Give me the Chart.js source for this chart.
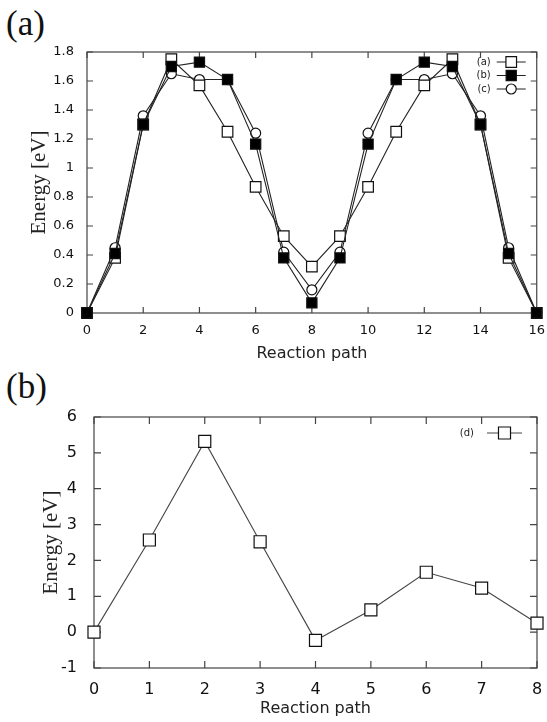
<!DOCTYPE html>
<html lang="en">
<head>
<meta charset="UTF-8">
<title>Energy along reaction path</title>
<script src="https://cdn.jsdelivr.net/npm/chart.js@4/dist/chart.umd.min.js"></script>
<style>
    body{
        margin: 0;
        padding: 0;
        background: white;
        width: 547px;
        height: 722px;
        position: relative;
        overflow: hidden;
    }
    canvas{
        position: absolute;
        left: 0;
    }
    #topchart{ top: 0; }
    #botchart{ top: 370px; }
    .tag{
        position: absolute;
        left: 6px;
        font-family: 'Liberation Serif', serif;
        font-size: 35px;
        color: #111;
        line-height: 1;
    }
</style>
</head>
<body>
<div class="tag" style="top:6px">(a)</div>
<div class="tag" style="top:369px">(b)</div>
<canvas id="topchart" width="547" height="370"></canvas>
<canvas id="botchart" width="547" height="352"></canvas>
<script>
// panel (a)
var pathA = [0,1,2,3,4,5,6,7,8,9,10,11,12,13,14,15,16];
var seriesA = [0,0.38,1.30,1.75,1.57,1.25,0.87,0.53,0.32,0.53,0.87,1.25,1.57,1.75,1.30,0.38,0];
var seriesB = [0,0.41,1.30,1.70,1.73,1.61,1.165,0.38,0.07,0.38,1.165,1.61,1.73,1.70,1.30,0.41,0];
var seriesC = [0,0.45,1.36,1.65,1.61,1.61,1.24,0.42,0.16,0.42,1.24,1.61,1.61,1.65,1.36,0.45,0];
var labelsTop = ['(a)','(b)','(c)'];

// panel (b)
var pathD = [0,1,2,3,4,5,6,7,8];
var seriesD = [0,2.57,5.32,2.52,-0.23,0.62,1.67,1.23,0.25];
var labelsBot = ['(d)'];

Chart.defaults.font.family = 'DejaVu Sans';
Chart.defaults.color = '#111';

function pts(xs, ys){
    return xs.map(function(v, i){ return {x: v, y: ys[i]}; });
}

// gnuplot style box with ticks pointing inwards on all four sides
const frame = {
    id: 'frame',
    beforeDatasetsDraw(chart, args, opts){
        const ctx = chart.ctx, a = chart.chartArea;
        const sx = chart.scales.x, sy = chart.scales.y;
        const len = opts.tick;
        ctx.save();
        ctx.strokeStyle = '#444';
        ctx.lineWidth = 1.2;
        ctx.beginPath();
        sx.ticks.forEach(function(t){
            const px = sx.getPixelForValue(t.value);
            ctx.moveTo(px, a.bottom); ctx.lineTo(px, a.bottom - len);
            ctx.moveTo(px, a.top); ctx.lineTo(px, a.top + len);
        });
        sy.ticks.forEach(function(t){
            const py = sy.getPixelForValue(t.value);
            ctx.moveTo(a.left, py); ctx.lineTo(a.left + len, py);
            ctx.moveTo(a.right, py); ctx.lineTo(a.right - len, py);
        });
        ctx.stroke();
        ctx.strokeRect(a.left, a.top, a.right - a.left, a.bottom - a.top);
        ctx.restore();
    }
};

// key in the top right corner: label, then a line sample with its marker
const key = {
    id: 'key',
    afterDraw(chart, args, opts){
        const ctx = chart.ctx, a = chart.chartArea;
        ctx.save();
        chart.data.datasets.forEach(function(ds, i){
            const y = a.top + opts.top + i * opts.gap;
            const x0 = a.right - opts.lineStart, x1 = a.right - opts.lineEnd;
            ctx.font = opts.size + 'px DejaVu Sans';
            ctx.fillStyle = '#222';
            ctx.textAlign = 'right';
            ctx.textBaseline = 'middle';
            ctx.fillText(ds.label, x0 - opts.textGap, y);
            ctx.strokeStyle = ds.borderColor;
            ctx.lineWidth = 1;
            ctx.beginPath(); ctx.moveTo(x0, y); ctx.lineTo(x1, y); ctx.stroke();
            ctx.fillStyle = ds.pointBackgroundColor;
            ctx.strokeStyle = ds.pointBorderColor;
            ctx.lineWidth = ds.pointBorderWidth;
            Chart.helpers.drawPoint(ctx, {pointStyle: ds.pointStyle, radius: ds.pointRadius, rotation: 0, borderWidth: ds.pointBorderWidth}, (x0 + x1) / 2, y);
        });
        ctx.restore();
    }
};

function yTitle(pad){
    return {display: true, text: 'Energy [eV]', color: '#222',
        font: {family: 'Liberation Serif', size: 21}, padding: {top: pad, bottom: 0}};
}
function xTitle(pad){
    return {display: true, text: 'Reaction path', color: '#222',
        font: {family: 'DejaVu Sans', size: 16}, padding: {top: 0, bottom: pad}};
}

function line(label, xs, ys, style, fill, radius, order, col){
    return {
        label: label,
        data: pts(xs, ys),
        borderColor: col,
        borderWidth: 1.1,
        pointStyle: style,
        pointRadius: radius,
        pointBackgroundColor: fill,
        pointBorderColor: '#111',
        pointBorderWidth: 1.2,
        clip: false,
        order: order
    };
}

new Chart(document.getElementById('topchart'), {
    type: 'line',
    data: {
        datasets: [
            line(labelsTop[0], pathA, seriesA, 'rect', 'white', 7.5, 1, '#222'),
            line(labelsTop[1], pathA, seriesB, 'rect', '#000', 7.2, 0, '#222'),
            line(labelsTop[2], pathA, seriesC, 'circle', 'white', 5, 2, '#222')
        ]
    },
    options: {
        responsive: false,
        animation: false,
        layout: {padding: {left: 0, top: 52, right: 9, bottom: 0}},
        plugins: {
            legend: {display: false},
            tooltip: {enabled: false},
            frame: {tick: 6},
            key: {top: 10, gap: 13.5, lineStart: 40, lineEnd: 11, textGap: 6, size: 10}
        },
        scales: {
            x: {
                type: 'linear', min: 0, max: 16,
                grid: {display: false},
                border: {display: false},
                ticks: {stepSize: 2, padding: 2, font: {size: 13}, color: '#111'},
                title: xTitle(7),
                afterFit: function(s){ s.height = 57; }
            },
            y: {
                min: 0, max: 1.8,
                grid: {display: false},
                border: {display: false},
                ticks: {stepSize: 0.2, padding: 5, font: {size: 13}, color: '#111',
                    callback: function(v){ return String(Number(v.toFixed(1))); }},
                title: yTitle(27),
                afterFit: function(s){ s.width = 87; }
            }
        }
    },
    plugins: [frame, key]
});

new Chart(document.getElementById('botchart'), {
    type: 'line',
    data: {
        datasets: [
            line(labelsBot[0], pathD, seriesD, 'rect', 'white', 8.5, 0, '#444')
        ]
    },
    options: {
        responsive: false,
        animation: false,
        layout: {padding: {left: 0, top: 47, right: 10, bottom: 0}},
        plugins: {
            legend: {display: false},
            tooltip: {enabled: false},
            frame: {tick: 7},
            key: {top: 16, gap: 14, lineStart: 50, lineEnd: 15, textGap: 13, size: 10}
        },
        scales: {
            x: {
                type: 'linear', min: 0, max: 8,
                grid: {display: false},
                border: {display: false},
                ticks: {stepSize: 1, padding: 4, font: {size: 16}, color: '#111'},
                title: xTitle(4),
                afterFit: function(s){ s.height = 54; }
            },
            y: {
                min: -1, max: 6,
                grid: {display: false},
                border: {display: false},
                ticks: {stepSize: 1, padding: 9, font: {size: 16}, color: '#111'},
                title: yTitle(39),
                afterFit: function(s){ s.width = 94; }
            }
        }
    },
    plugins: [frame, key]
});
</script>
</body>
</html>
